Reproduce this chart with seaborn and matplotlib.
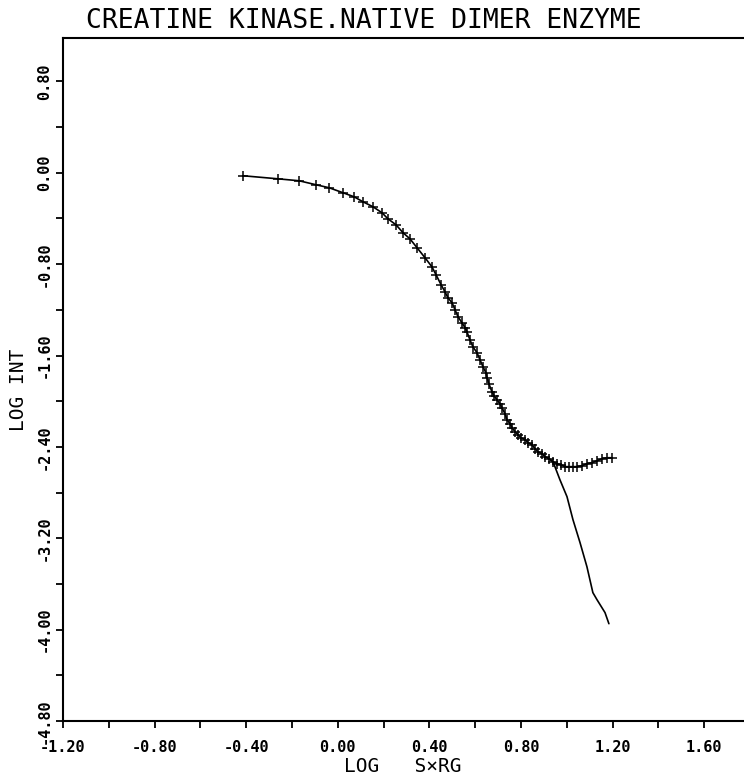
import numpy as np
import matplotlib
matplotlib.use("Agg")
import matplotlib.pyplot as plt
import seaborn as sns
from matplotlib.ticker import FixedLocator, MultipleLocator

# measured curve (crosses joined by a line)
log_s = [-0.414, -0.261, -0.169, -0.095, -0.038, 0.023, 0.071, 0.110, 0.154, 0.193,
         0.219, 0.254, 0.285, 0.315, 0.346, 0.381, 0.411, 0.429, 0.451, 0.468,
         0.481, 0.499, 0.512, 0.525, 0.542, 0.556, 0.564, 0.577, 0.590, 0.608,
         0.621, 0.634, 0.647, 0.652, 0.660, 0.673, 0.682, 0.695, 0.708, 0.717,
         0.730, 0.739, 0.752, 0.761, 0.774, 0.787, 0.800, 0.818, 0.831, 0.848,
         0.861, 0.874, 0.892, 0.905, 0.922, 0.940, 0.957, 0.975, 0.992, 1.010,
         1.027, 1.045, 1.066, 1.088, 1.110, 1.132, 1.154, 1.176, 1.197]
log_int = [-0.026, -0.053, -0.070, -0.105, -0.131, -0.175, -0.210, -0.254, -0.298, -0.350,
           -0.403, -0.455, -0.525, -0.578, -0.656, -0.744, -0.823, -0.893, -0.980, -1.042,
           -1.094, -1.138, -1.199, -1.260, -1.313, -1.357, -1.392, -1.462, -1.523, -1.576,
           -1.637, -1.698, -1.751, -1.794, -1.847, -1.917, -1.952, -1.987, -2.022, -2.057,
           -2.109, -2.162, -2.197, -2.232, -2.267, -2.293, -2.320, -2.337, -2.363, -2.381,
           -2.416, -2.442, -2.460, -2.486, -2.503, -2.530, -2.547, -2.556, -2.573, -2.573,
           -2.573, -2.573, -2.565, -2.547, -2.538, -2.521, -2.503, -2.495, -2.495]

# smooth curve that leaves the data near log s = 0.92
fit_s = [0.922, 0.940, 0.970, 1.001, 1.027, 1.058, 1.088, 1.114, 1.132, 1.167, 1.184]
fit_int = [-2.503, -2.530, -2.687, -2.836, -3.037, -3.239, -3.449, -3.676, -3.738, -3.851, -3.948]

x_ticks = [-1.20, -0.80, -0.40, 0.00, 0.40, 0.80, 1.20, 1.60]
y_ticks = [-4.80, -4.00, -3.20, -2.40, -1.60, -0.80, 0.00, 0.80]

sns.set_style("ticks")
plt.rcParams['font.family'] = ['DejaVu Sans Mono', 'DejaVu Sans']
plt.rcParams['text.color'] = 'black'
plt.rcParams['xtick.color'] = 'black'
plt.rcParams['ytick.color'] = 'black'

fig = plt.figure(figsize=(7.44, 7.76), dpi=100)
W, H = 744, 776
ax = fig.add_axes([63 / W, (H - 721) / H, (W - 63) / W, (721 - 38) / H])

sns.lineplot(x=log_s, y=log_int, ax=ax, sort=False, estimator=None,
             color="black", linewidth=1.2, marker="+", markersize=7.5,
             markeredgewidth=1.1, markeredgecolor="black")
sns.lineplot(x=fit_s, y=fit_int, ax=ax, sort=False, estimator=None,
             color="black", linewidth=1.2)

ax.set_xlim(-1.2, 1.774)
ax.set_ylim(-4.8, 1.18)

ax.xaxis.set_major_locator(FixedLocator(x_ticks))
ax.xaxis.set_minor_locator(MultipleLocator(0.2))
ax.yaxis.set_major_locator(FixedLocator(y_ticks))
ax.yaxis.set_minor_locator(MultipleLocator(0.4))
ax.set_xticklabels([f"{v:.2f}" for v in x_ticks], fontsize=11, fontweight="bold")
ax.set_yticklabels([f"{v:.2f}" for v in y_ticks], fontsize=11, fontweight="bold",
                   rotation=90, va="center")
ax.tick_params(which="both", direction="out", length=5, width=1.3, color="black")
ax.tick_params(axis="x", which="major", pad=9)
ax.tick_params(axis="y", which="major", pad=3)

for side in ["left", "bottom", "top"]:
    ax.spines[side].set_linewidth(1.5)
    ax.spines[side].set_color("black")
ax.spines["right"].set_visible(False)

ax.set_xlabel("")
ax.set_ylabel("")
fig.text(403 / W, 1 - 767 / H, "LOG   S\u00d7RG", fontsize=14, ha="center", va="center")
fig.text(19 / W, 1 - 390 / H, "LOG INT", fontsize=14, ha="center", va="center", rotation=90)
fig.text(364 / W, 1 - 21 / H, "CREATINE KINASE.NATIVE DIMER ENZYME", fontsize=19,
         ha="center", va="center")

fig.savefig("out.png", dpi=100, facecolor="white")
